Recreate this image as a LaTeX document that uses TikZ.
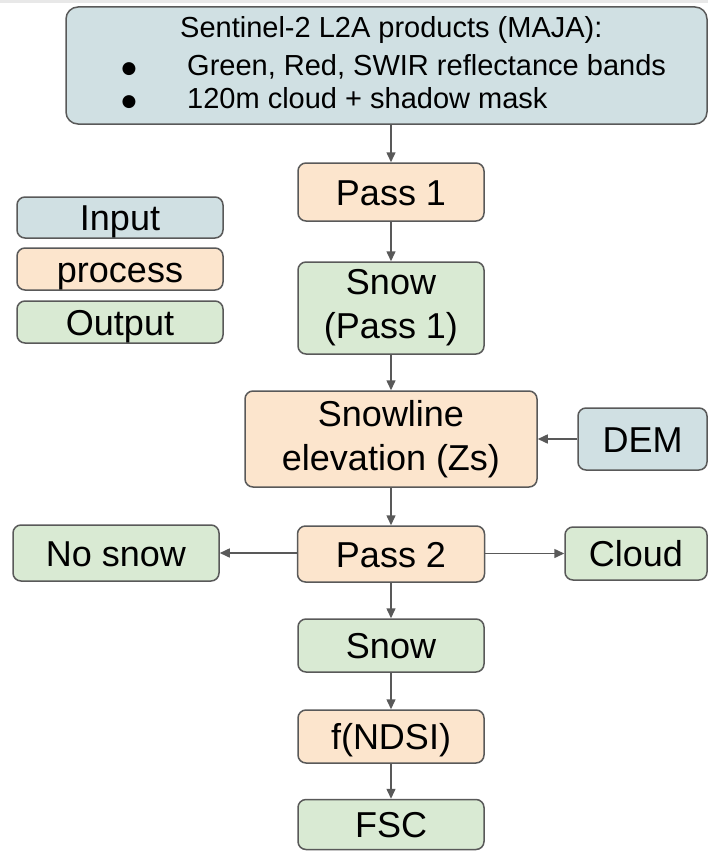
\documentclass[tikz,border=0pt]{standalone}
\usepackage{fontspec}
\setmainfont{Liberation Sans}
\newfontfamily\symfont{DejaVu Sans}
\usetikzlibrary{arrows.meta}
\definecolor{inputfill}{HTML}{D0E0E3}
\definecolor{procfill}{HTML}{FCE5CD}
\definecolor{outfill}{HTML}{D9EAD3}
\definecolor{edgegray}{HTML}{595959}
\begin{document}
\begin{tikzpicture}[x=1pt,y=-1pt,
  box/.style={draw=edgegray, line width=1.5pt, rounded corners=8pt, inner sep=0pt,
    align=center, font=\fontsize{36}{44}\selectfont},
  oneline/.style={text height=26pt, text depth=0pt},
  inbox/.style={box, fill=inputfill},
  procbox/.style={box, fill=procfill},
  outbox/.style={box, fill=outfill},
  srctext/.style={inner sep=0pt, anchor=base west, font=\fontsize{29}{35}\selectfont},
  bullet/.style={inner sep=0pt, font=\symfont\fontsize{17}{17}\selectfont},
  flow/.style={draw=edgegray, line width=1.5pt, -{Triangle[length=10pt,width=9pt]}},
]
\useasboundingbox (0,0) rectangle (708,851);
% thin grey band along the upper edge
\fill[gray!18] (0,0) rectangle (708,3);

% source products
\node[inbox, rounded corners=12pt, minimum width=641pt, minimum height=117pt] (src) at (386.5,65.5) {};
\node[srctext] (srcl1) at (180,38) {Sentinel-2 L2A products (MAJA):};
\node[bullet] (b1) at (129,69) {●};
\node[srctext] (srcl2) at (187,75) {Green, Red, SWIR reflectance bands};
\node[bullet] (b2) at (129,102) {●};
\node[srctext] (srcl3) at (187,108) {120m cloud + shadow mask};

% legend
\node[inbox, oneline, minimum width=206pt, minimum height=41pt] (leg1) at (120,217.5) {Input};
\node[procbox, oneline, minimum width=206pt, minimum height=42pt] (leg2) at (120,269) {process};
\node[outbox, oneline, minimum width=206pt, minimum height=42pt] (leg3) at (120,322) {Output};

% main chain
\node[procbox, oneline, minimum width=186pt, minimum height=58pt] (pass1) at (391,192) {Pass 1};
\node[outbox, minimum width=186pt, minimum height=92pt] (snow1) at (391,308) {Snow\\(Pass 1)};
\node[procbox, minimum width=292pt, minimum height=96pt] (zs) at (391,439) {Snowline\\elevation (Zs)};
\node[inbox, oneline, minimum width=129pt, minimum height=62pt] (dem) at (642.5,439) {DEM};
\node[procbox, oneline, minimum width=187pt, minimum height=56pt] (pass2) at (391,554) {Pass 2};
\node[outbox, oneline, minimum width=206pt, minimum height=56pt] (nosnow) at (116,553) {No snow};
\node[outbox, oneline, minimum width=142pt, minimum height=53pt] (cloud) at (636,553.5) {Cloud};
\node[outbox, oneline, minimum width=186pt, minimum height=53pt] (snow2) at (391,645.5) {Snow};
\node[procbox, oneline, minimum width=186pt, minimum height=53pt] (fndsi) at (391,736.5) {f(NDSI)};
\node[outbox, oneline, minimum width=186pt, minimum height=50pt] (fsc) at (391,824.5) {FSC};

% connectors
\draw[flow] (src.south -| pass1.north) -- (pass1.north);
\draw[flow] (pass1) -- (snow1);
\draw[flow] (snow1) -- (zs);
\draw[flow] (dem) -- (zs);
\draw[flow] (zs) -- (pass2);
\draw[flow] (pass2.west |- nosnow.east) -- (nosnow.east);
\draw[flow] (pass2.east |- cloud.west) -- (cloud.west);
\draw[flow] (pass2) -- (snow2);
\draw[flow] (snow2) -- (fndsi);
\draw[flow] (fndsi) -- (fsc);
\end{tikzpicture}
\end{document}
